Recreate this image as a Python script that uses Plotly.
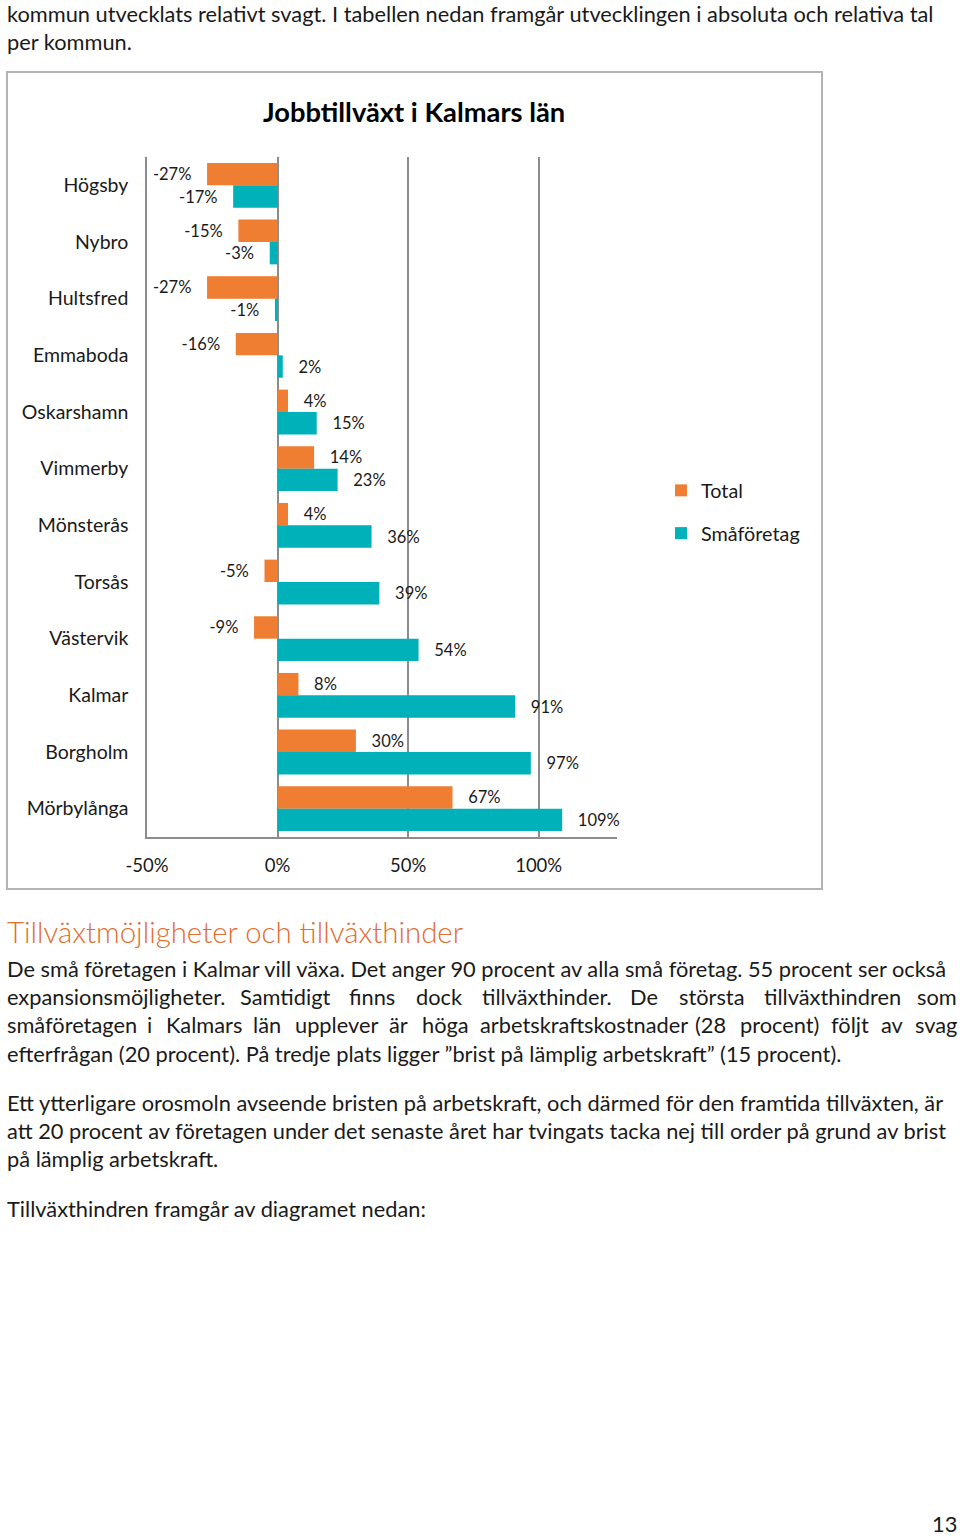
import plotly.graph_objects as go

# ---- data ----
kommuner = ["Högsby", "Nybro", "Hultsfred", "Emmaboda", "Oskarshamn", "Vimmerby",
            "Mönsterås", "Torsås", "Västervik", "Kalmar", "Borgholm", "Mörbylånga"]
total = [-27, -15, -27, -16, 4, 14, 4, -5, -9, 8, 30, 67]
smaforetag = [-17, -3, -1, 2, 15, 23, 36, 39, 54, 91, 97, 109]
series_names = ["Total", "Småföretag"]
tick_vals = [-50, 0, 50, 100]
tick_labels = ["-50%", "0%", "50%", "100%"]

ORANGE = "#EF7D32"
TEAL = "#00B1B9"
GRID = "#8C8C8C"
FONT = "Lato"
TXT = "#1a1a1a"

W, H = 960, 1538


def px(x):
    return x / W


def py(y):
    return 1 - y / H


def lab(v):
    pad = "\u00a0\u00a0\u00a0"
    return (pad + f"{v}%") if v >= 0 else (f"{v}%" + pad)


fig = go.Figure()
fig.add_trace(go.Bar(
    y=kommuner, x=total, orientation="h", name=series_names[0],
    marker=dict(color=ORANGE, line=dict(width=0)),
    text=[lab(v) for v in total], textposition="outside",
    textfont=dict(family=FONT, size=16.5, color=TXT),
    cliponaxis=False, constraintext="none", legendgroup="a",
    hoverinfo="skip"))
fig.add_trace(go.Bar(
    y=kommuner, x=smaforetag, orientation="h", name=series_names[1],
    marker=dict(color=TEAL, line=dict(width=0)),
    text=[lab(v) for v in smaforetag], textposition="outside",
    textfont=dict(family=FONT, size=16.5, color=TXT),
    cliponaxis=False, constraintext="none", legendgroup="b",
    hoverinfo="skip"))

fig.update_layout(
    template="none",
    width=W, height=H,
    margin=dict(l=0, r=0, t=0, b=0, pad=0, autoexpand=False),
    paper_bgcolor="white", plot_bgcolor="white",
    barmode="group", bargap=0.21, bargroupgap=0,
    font=dict(family=FONT, color=TXT),
    showlegend=True,
    legend=dict(x=px(661), y=py(471), xanchor="left", yanchor="top",
                font=dict(family=FONT, size=19.8, color=TXT),
                tracegroupgap=14, traceorder="grouped",
                bgcolor="rgba(0,0,0,0)", borderwidth=0),
    xaxis=dict(domain=[px(147), px(617)], range=[-50, 130], automargin=False,
               tickvals=tick_vals, ticktext=tick_labels,
               showgrid=True, gridcolor=GRID, gridwidth=1.5,
               zeroline=False, showline=True, linecolor=GRID, linewidth=1.5,
               ticks="outside", ticklen=11, tickcolor="rgba(0,0,0,0)",
               tickfont=dict(family=FONT, size=18.5, color=TXT),
               fixedrange=True),
    yaxis=dict(domain=[py(837), py(157)], autorange="reversed", automargin=False,
               showgrid=False, zeroline=False, showline=True,
               linecolor=GRID, linewidth=1.5,
               ticks="outside", ticklen=13, tickcolor="rgba(0,0,0,0)",
               tickfont=dict(family=FONT, size=19.5, color=TXT),
               fixedrange=True),
)

# chart frame
fig.add_shape(type="rect", xref="paper", yref="paper",
              x0=px(7), x1=px(822), y0=py(889), y1=py(72),
              line=dict(color="#B3B3B3", width=2), fillcolor="rgba(0,0,0,0)",
              layer="below")

# chart title
fig.add_annotation(text="<b>Jobbtillväxt i Kalmars län</b>", xref="paper", yref="paper",
                   x=px(414), y=py(112), xanchor="center", yanchor="middle",
                   showarrow=False, font=dict(family=FONT, size=27.3, color="#000"))

BODY = 21.8
PAD = 2  # annotation inner padding

# approximate Lato advance widths (em) for laying out justified lines
CW = {"a": .50, "b": .56, "c": .46, "d": .56, "e": .52, "f": .32, "g": .50, "h": .56,
      "i": .24, "j": .24, "k": .50, "l": .24, "m": .83, "n": .56, "o": .56, "p": .56,
      "q": .56, "r": .36, "s": .42, "t": .35, "u": .56, "v": .50, "w": .76, "x": .49,
      "y": .50, "z": .45, "å": .50, "ä": .50, "ö": .56, ".": .22, ",": .22, "(": .30,
      ")": .30, "S": .52, "D": .72, "K": .64}


def text_w(s, size):
    return 0.97 * size * sum(CW.get(c, .58) for c in s)


def line(text, x, y, size=BODY, color=TXT, anchor="left", weight=None):
    f = dict(family=FONT, size=size, color=color)
    if weight:
        f["weight"] = weight
    xx = x - PAD if anchor == "left" else x + PAD
    fig.add_annotation(text=text, xref="paper", yref="paper", x=px(xx), y=py(y),
                       xanchor=anchor, yanchor="middle", showarrow=False, font=f)


def justified(text, y, x0=7, x1=957):
    words = text.split(" ")
    widths = [text_w(w_, BODY) for w_ in words]
    gap = (x1 - x0 - sum(widths)) / (len(words) - 1)
    x = x0
    for i, (w_, wd) in enumerate(zip(words, widths)):
        if i == len(words) - 1:
            line(w_, x1, y, anchor="right")
        else:
            line(w_, x, y)
        x += wd + gap


line("kommun utvecklats relativt svagt. I tabellen nedan framgår utvecklingen i absoluta och relativa tal", 7, 13)
line("per kommun.", 7, 41)

line("Tillväxtmöjligheter och tillväxthinder", 7, 931, size=29.4, color="#E36C2F", weight=300)

line("De små företagen i Kalmar vill växa. Det anger 90 procent av alla små företag. 55 procent ser också", 7, 968)
justified("expansionsmöjligheter. Samtidigt finns dock tillväxthinder. De största tillväxthindren som", 996)
justified("småföretagen i Kalmars län upplever är höga arbetskraftskostnader (28 procent) följt av svag", 1024)
line("efterfrågan (20 procent). På tredje plats ligger ”brist på lämplig arbetskraft” (15 procent).", 7, 1053)

line("Ett ytterligare orosmoln avseende bristen på arbetskraft, och därmed för den framtida tillväxten, är", 7, 1102)
line("att 20 procent av företagen under det senaste året har tvingats tacka nej till order på grund av brist", 7, 1130)
line("på lämplig arbetskraft.", 7, 1158)

line("Tillväxthindren framgår av diagramet nedan:", 7, 1208)

line("13", 957, 1523, anchor="right")

fig.write_html("out.html", config={"displayModeBar": False},
               post_script="document.body.style.margin='0px';")
